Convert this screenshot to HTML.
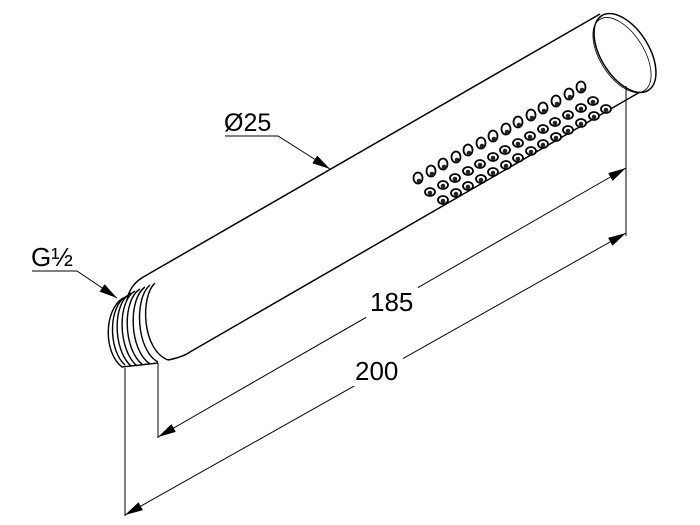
<!DOCTYPE html>
<html><head><style>html,body{margin:0;padding:0;background:#fff}svg{display:block}</style></head>
<body>
<svg width="700" height="525" viewBox="0 0 700 525" xmlns="http://www.w3.org/2000/svg" font-family="Liberation Sans, Arial, sans-serif">
<g fill="none" stroke="#000" stroke-width="1.5">
<path d="M600,14 L145,276 Q130,284 127,300"/>
<path d="M640,92 L190,352 Q183,357 168,360"/>
<ellipse cx="625" cy="53" rx="44" ry="24" transform="rotate(58 625 53)"/>
<ellipse cx="622" cy="55" rx="42" ry="22" transform="rotate(58 622 55)" stroke-width="0.8"/>
<g stroke-width="1.4">
<path d="M127,296 C108,305 108,350 125,365"/>
<path d="M131,293 C112,303 113,350 131,366"/>
<path d="M135,291 C117,301 118,350 137,366"/>
<path d="M140,289 C122,300 123,350 143,365"/>
<path d="M145,287 C128,299 129,350 150,364"/>
<path d="M150,285 C134,298 136,350 158,362"/>
<path d="M155,283 C140,297 142,350 168,360"/>
<path d="M123,298 C104,310 103,352 122,367 L158,363"/>
</g>
</g>
<g fill="none" stroke="#000" stroke-width="1">
<line x1="125" y1="368" x2="125" y2="516"/>
<line x1="158" y1="363" x2="158" y2="438"/>
<line x1="626" y1="86" x2="626" y2="236"/>
<line x1="158" y1="437" x2="626" y2="168"/>
<line x1="125" y1="515" x2="626" y2="233"/>
<polyline points="225,136 278,136 330,169"/>
<polyline points="32,271 77,271 117,298"/>
</g>
<g fill="#000">
<polygon points="158,437 175.8,431.9 171.4,424.1"/>
<polygon points="626,168 612.6,180.9 608.2,173.1"/>
<polygon points="125,515 142.9,510.1 138.5,502.3"/>
<polygon points="626,233 612.5,245.7 608.1,237.9"/>
<polygon points="330,169 312.4,163.2 317.2,155.6"/>
<polygon points="117,298 99.6,291.6 104.6,284.2"/>
</g>
<rect x="366" y="286" width="52" height="32" fill="#fff"/>
<rect x="351" y="354" width="52" height="32" fill="#fff"/>
<g font-size="26" fill="#000">
<text x="224" y="131" font-size="25">Ø25</text>
<text x="31" y="266">G½</text>
<text x="370" y="311">185</text>
<text x="355" y="380">200</text>
</g>
<g stroke="#000" stroke-width="1.8" fill="#fff">
<g>
<ellipse cx="418" cy="178" rx="4.5" ry="5.5"/><ellipse cx="431" cy="171" rx="4.5" ry="5.5"/><ellipse cx="443" cy="164" rx="4.5" ry="5.5"/><ellipse cx="456" cy="157" rx="4.5" ry="5.5"/><ellipse cx="468" cy="150" rx="4.5" ry="5.5"/><ellipse cx="481" cy="143" rx="4.5" ry="5.5"/><ellipse cx="493" cy="136" rx="4.5" ry="5.5"/><ellipse cx="506" cy="129" rx="4.5" ry="5.5"/><ellipse cx="518" cy="122" rx="4.5" ry="5.5"/><ellipse cx="531" cy="115" rx="4.5" ry="5.5"/><ellipse cx="543" cy="108" rx="4.5" ry="5.5"/><ellipse cx="556" cy="101" rx="4.5" ry="5.5"/><ellipse cx="569" cy="94" rx="4.5" ry="5.5"/><ellipse cx="581" cy="87" rx="4.5" ry="5.5"/>
</g>
<g>
<ellipse cx="430" cy="192" rx="5" ry="4"/><ellipse cx="443" cy="185" rx="5" ry="4"/><ellipse cx="455" cy="178" rx="5" ry="4"/><ellipse cx="468" cy="171" rx="5" ry="4"/><ellipse cx="480" cy="164" rx="5" ry="4"/><ellipse cx="493" cy="157" rx="5" ry="4"/><ellipse cx="505" cy="150" rx="5" ry="4"/><ellipse cx="518" cy="143" rx="5" ry="4"/><ellipse cx="530" cy="136" rx="5" ry="4"/><ellipse cx="543" cy="129" rx="5" ry="4"/><ellipse cx="555" cy="122" rx="5" ry="4"/><ellipse cx="568" cy="115" rx="5" ry="4"/><ellipse cx="581" cy="108" rx="5" ry="4"/><ellipse cx="593" cy="101" rx="5" ry="4"/>
</g>
<g>
<ellipse cx="443" cy="200" rx="5" ry="4"/><ellipse cx="456" cy="193" rx="5" ry="4"/><ellipse cx="468" cy="186" rx="5" ry="4"/><ellipse cx="481" cy="179" rx="5" ry="4"/><ellipse cx="493" cy="172" rx="5" ry="4"/><ellipse cx="506" cy="165" rx="5" ry="4"/><ellipse cx="518" cy="158" rx="5" ry="4"/><ellipse cx="531" cy="151" rx="5" ry="4"/><ellipse cx="543" cy="144" rx="5" ry="4"/><ellipse cx="556" cy="137" rx="5" ry="4"/><ellipse cx="568" cy="130" rx="5" ry="4"/><ellipse cx="581" cy="123" rx="5" ry="4"/><ellipse cx="594" cy="116" rx="5" ry="4"/><ellipse cx="606" cy="109" rx="5" ry="4"/>
</g>
</g>
<g fill="#222">
<circle cx="419" cy="181" r="2.3"/><circle cx="432" cy="174" r="2.3"/><circle cx="444" cy="167" r="2.3"/><circle cx="457" cy="160" r="2.3"/><circle cx="469" cy="153" r="2.3"/><circle cx="482" cy="146" r="2.3"/><circle cx="494" cy="139" r="2.3"/><circle cx="507" cy="132" r="2.3"/><circle cx="519" cy="125" r="2.3"/><circle cx="532" cy="118" r="2.3"/><circle cx="544" cy="111" r="2.3"/><circle cx="557" cy="104" r="2.3"/><circle cx="570" cy="97" r="2.3"/><circle cx="582" cy="90" r="2.3"/>
<circle cx="430" cy="193" r="2.3"/><circle cx="443" cy="186" r="2.3"/><circle cx="455" cy="179" r="2.3"/><circle cx="468" cy="172" r="2.3"/><circle cx="480" cy="165" r="2.3"/><circle cx="493" cy="158" r="2.3"/><circle cx="505" cy="151" r="2.3"/><circle cx="518" cy="144" r="2.3"/><circle cx="530" cy="137" r="2.3"/><circle cx="543" cy="130" r="2.3"/><circle cx="555" cy="123" r="2.3"/><circle cx="568" cy="116" r="2.3"/><circle cx="581" cy="109" r="2.3"/><circle cx="593" cy="102" r="2.3"/>
<circle cx="443" cy="201" r="2.3"/><circle cx="456" cy="194" r="2.3"/><circle cx="468" cy="187" r="2.3"/><circle cx="481" cy="180" r="2.3"/><circle cx="493" cy="173" r="2.3"/><circle cx="506" cy="166" r="2.3"/><circle cx="518" cy="159" r="2.3"/><circle cx="531" cy="152" r="2.3"/><circle cx="543" cy="145" r="2.3"/><circle cx="556" cy="138" r="2.3"/><circle cx="568" cy="131" r="2.3"/><circle cx="581" cy="124" r="2.3"/><circle cx="594" cy="117" r="2.3"/><circle cx="606" cy="110" r="2.3"/>
</g>
</svg>
</body></html>
